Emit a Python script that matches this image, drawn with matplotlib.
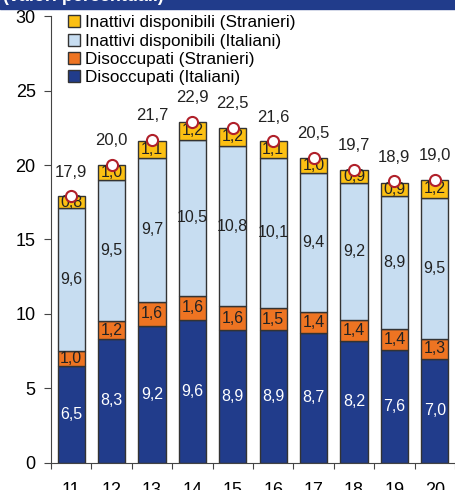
import matplotlib
matplotlib.use('Agg')
import matplotlib.pyplot as plt
import numpy as np
from matplotlib.patches import Rectangle

plt.rcParams['font.family'] = ['Liberation Sans', 'DejaVu Sans']

# dati (valori percentuali)
anni = ['11', '12', '13', '14', '15', '16', '17', '18', '19', '20']
disocc_ita = [6.5, 8.3, 9.2, 9.6, 8.9, 8.9, 8.7, 8.2, 7.6, 7.0]
disocc_str = [1.0, 1.2, 1.6, 1.6, 1.6, 1.5, 1.4, 1.4, 1.4, 1.3]
inatt_ita = [9.6, 9.5, 9.7, 10.5, 10.8, 10.1, 9.4, 9.2, 8.9, 9.5]
inatt_str = [0.8, 1.0, 1.1, 1.2, 1.2, 1.1, 1.0, 0.9, 0.9, 1.2]
totale = [17.9, 20.0, 21.7, 22.9, 22.5, 21.6, 20.5, 19.7, 18.9, 19.0]

def fmt(v):
    return ('%.1f' % v).replace('.', ',')

fig = plt.figure(figsize=(4.56, 4.90), dpi=100)
ax = fig.add_axes([51 / 456, 1 - 462.7 / 490, 404 / 456, (462.7 - 16.3) / 490])

x = np.arange(len(anni))
w = 0.67
serie = [
    (disocc_ita, '#213C8B', 'Disoccupati (Italiani)', 'white'),
    (disocc_str, '#EE7422', 'Disoccupati (Stranieri)', '#222222'),
    (inatt_ita, '#C7DDF1', 'Inattivi disponibili (Italiani)', '#222222'),
    (inatt_str, '#FCC013', 'Inattivi disponibili (Stranieri)', '#222222'),
]
base = np.zeros(len(anni))
handles = []
for vals, col, lab, tcol in serie:
    vals = np.array(vals)
    b = ax.bar(x, vals, w, bottom=base, color=col, edgecolor='#333333',
               linewidth=1.0, label=lab, zorder=2)
    handles.append(b)
    for xi, b0, v in zip(x, base, vals):
        ax.text(xi, b0 + v / 2, fmt(v), ha='center', va='center',
                fontsize=11.5, color=tcol, zorder=4)
    base = base + vals

# totale
ax.plot(x, totale, 'o', ms=8, mfc='white', mec='#B0202A', mew=1.5,
        ls='none', zorder=5, clip_on=False)
for xi, t in zip(x, totale):
    ax.text(xi, t + 1.62, fmt(t), ha='center', va='center', fontsize=12,
            color='#222222')

ax.set_xlim(-0.5, len(anni) - 0.5)
ax.set_ylim(0, 30)
ax.set_yticks([0, 5, 10, 15, 20, 25, 30])
ax.set_xticks(np.arange(-0.5, len(anni), 1.0))
ax.set_xticklabels([])
ax.set_xticks(x, minor=True)
ax.set_xticklabels(anni, minor=True)
ax.tick_params(axis='x', which='major', direction='out', length=4, color='#444444')
ax.tick_params(axis='x', which='minor', length=0, pad=14, labelsize=13)
ax.tick_params(axis='y', direction='out', length=5, pad=6, labelsize=13, color='#444444')
for s in ['top', 'right']:
    ax.spines[s].set_visible(False)
for s in ['left', 'bottom']:
    ax.spines[s].set_color('#444444')

leg = ax.legend(handles[::-1], [h.get_label() for h in handles[::-1]],
                loc='upper left', bbox_to_anchor=(0.025, 1.018), frameon=False,
                fontsize=12.3, handlelength=0.7, handleheight=0.7,
                handletextpad=0.3, labelspacing=0.2, borderaxespad=0)

# banda del titolo (tagliata in alto)
fig.patches.append(Rectangle((0, 1 - 9 / 490), 1, 9 / 490, transform=fig.transFigure,
                             color='#213C8B', zorder=0))
fig.text(3 / 456, 1 - 5 / 490, '(valori percentuali)', color='white',
         fontsize=13, fontweight='bold', va='bottom', ha='left')

fig.savefig('out.png', dpi=100)
